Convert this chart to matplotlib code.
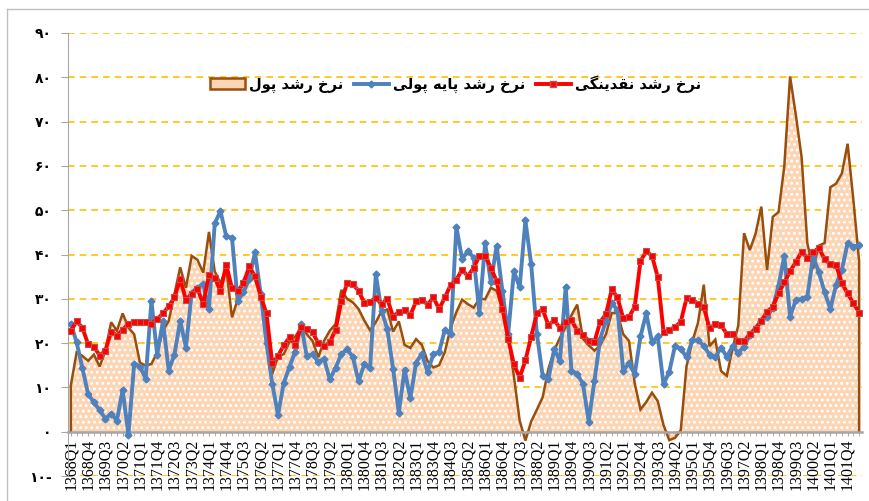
import matplotlib.pyplot as plt
import numpy as np
from matplotlib.lines import Line2D

plt.rcParams['hatch.color'] = 'white'
plt.rcParams['hatch.linewidth'] = 1.3

# quarterly categories 1368Q1 .. 1402Q2
quarters = [f'{y}Q{q}' for y in range(1368, 1403) for q in range(1, 5)][:138]

money = [10.5, 17.9, 17.1, 16.0, 17.4, 14.7, 18.3, 24.7, 22.8, 26.7,
         23.5, 22.0, 15.6, 14.9, 15.3, 17.9, 22.8, 25.0, 31.1, 37.1,
         32.5, 39.7, 38.8, 35.9, 45.1, 36.2, 33.5, 37.0, 25.8, 29.9,
         34.2, 36.5, 35.5, 31.8, 25.9, 13.0, 17.0, 17.5, 20.3, 21.5,
         23.5, 22.0, 20.5, 16.8, 20.5, 22.8, 24.3, 32.0, 30.0, 29.2,
         27.7, 25.1, 22.9, 24.7, 27.2, 27.6, 22.6, 24.9, 19.6, 18.9,
         20.9, 19.6, 15.9, 14.5, 15.0, 18.0, 23.5, 27.0, 29.8, 28.8,
         28.0, 30.0, 29.9, 32.5, 31.8, 27.5, 22.0, 12.5, 2.5, -2.0,
         2.3, 5.0, 7.8, 14.2, 18.4, 21.2, 23.6, 26.3, 28.7, 21.0,
         19.5, 18.3, 19.5, 22.0, 26.8, 26.8, 22.0, 20.5, 10.9, 5.0,
         6.7, 8.8, 6.9, 1.5, -1.9, -1.4, 0.3, 14.8, 20.3, 24.6,
         33.2, 19.3, 20.8, 13.7, 12.6, 18.8, 24.0, 44.8, 41.0, 44.7,
         50.8, 36.5, 48.5, 49.6, 60.0, 80.2, 71.5, 62.0, 42.5, 36.8,
         42.0, 42.6, 55.2, 56.0, 58.3, 65.0, 52.3, 38.5]

base = [24.3, 20.2, 14.3, 8.5, 6.6, 4.9, 2.9, 4.1, 2.5, 9.5,
        -0.7, 15.3, 14.7, 12.0, 29.5, 17.4, 25.0, 13.8, 17.4, 25.0,
        19.0, 31.4, 32.5, 33.3, 27.7, 47.0, 49.8, 44.1, 43.8, 29.5,
        31.5, 34.5, 40.5, 31.0, 20.0, 10.8, 3.8, 11.0, 14.7, 18.1,
        24.3, 17.0, 17.5, 15.7, 16.5, 11.8, 14.4, 17.5, 18.6, 16.9,
        11.4, 15.2, 14.3, 35.5, 27.3, 23.1, 14.2, 4.3, 14.0, 7.5,
        15.6, 17.6, 13.5, 17.5, 18.0, 23.0, 22.0, 46.2, 39.0, 40.8,
        39.3, 26.9, 42.5, 33.7, 42.0, 31.8, 22.0, 36.2, 32.6, 47.7,
        37.8, 22.0, 12.6, 11.9, 18.6, 16.0, 32.7, 13.8, 13.0, 10.8,
        2.3, 11.5, 21.0, 25.0, 29.0, 27.5, 13.8, 15.4, 13.0, 21.5,
        26.7, 20.2, 21.5, 10.7, 13.5, 19.4, 18.7, 16.8, 20.6, 20.6,
        19.4, 17.4, 16.8, 19.0, 16.9, 19.3, 17.8, 19.2, 21.9, 23.4,
        25.0, 26.0, 28.0, 33.0, 39.7, 26.0, 29.7, 30.0, 30.5, 39.5,
        36.0, 31.5, 27.7, 33.2, 36.5, 42.6, 41.8, 42.1]

liquidity = [22.8, 24.9, 23.5, 19.7, 19.2, 17.2, 18.3, 22.6, 21.7, 23.0,
             24.4, 24.8, 24.7, 24.8, 24.4, 25.4, 26.7, 28.3, 30.3, 34.4,
             29.8, 31.1, 32.3, 28.8, 35.4, 34.8, 31.7, 37.7, 32.4, 31.7,
             33.5, 37.3, 35.1, 30.5, 26.7, 15.4, 17.1, 19.5, 21.3, 19.6,
             23.7, 23.2, 22.4, 20.0, 19.3, 20.2, 23.0, 29.4, 33.5, 33.3,
             31.8, 29.1, 29.3, 30.2, 28.8, 30.0, 25.9, 27.1, 27.4, 26.3,
             29.4, 29.8, 28.7, 30.3, 27.7, 30.3, 33.1, 34.3, 36.6, 35.1,
             37.0, 39.6, 39.7, 37.0, 34.0, 27.8, 21.0, 15.2, 12.2, 16.1,
             21.4, 26.8, 27.6, 24.0, 25.2, 23.4, 24.8, 25.2, 22.8, 21.9,
             20.5, 20.3, 24.8, 26.5, 32.1, 30.3, 25.6, 25.9, 28.2, 38.5,
             40.7, 39.7, 34.9, 22.6, 23.0, 23.6, 24.8, 30.1, 29.8, 28.9,
             28.2, 23.3, 24.3, 24.0, 22.1, 22.1, 20.4, 20.4, 22.0, 23.2,
             25.0, 27.1, 28.2, 31.2, 33.7, 36.2, 38.3, 40.6, 39.3, 40.5,
             41.5, 38.9, 37.8, 37.6, 33.5, 31.2, 29.0, 26.9]

yticks = [-10, 0, 10, 20, 30, 40, 50, 60, 70, 80, 90]
ytick_labels = ['۱۰-', '۰', '۱۰', '۲۰', '۳۰', '۴۰', '۵۰', '۶۰', '۷۰', '۸۰', '۹۰']
legend_labels = ['نرخ رشد پول', 'نرخ رشد پایه پولی', 'نرخ رشد نقدینگی']

# simple arabic shaping (matplotlib has no shaping / bidi)
forms = {
    'ن': '\uFEE5\uFEE6\uFEE7\uFEE8', 'خ': '\uFEA5\uFEA6\uFEA7\uFEA8',
    'ش': '\uFEB5\uFEB6\uFEB7\uFEB8', 'پ': '\uFB56\uFB57\uFB58\uFB59',
    'ل': '\uFEDD\uFEDE\uFEDF\uFEE0', 'ی': '\uFBFC\uFBFD\uFBFE\uFBFF',
    'ه': '\uFEE9\uFEEA\uFEEB\uFEEC', 'ق': '\uFED5\uFED6\uFED7\uFED8',
    'گ': '\uFB92\uFB93\uFB94\uFB95',
    'ر': '\uFEAD\uFEAE\uFEAD\uFEAE', 'د': '\uFEA9\uFEAA\uFEA9\uFEAA',
    'و': '\uFEED\uFEEE\uFEED\uFEEE', 'ا': '\uFE8D\uFE8E\uFE8D\uFE8E',
}
right_only = set('ردوا')


def shape(text):
    out = []
    for k, c in enumerate(text):
        if c not in forms:
            out.append(c)
            continue
        prev = text[k - 1] if k > 0 else None
        nxt = text[k + 1] if k + 1 < len(text) else None
        jp = prev in forms and prev not in right_only
        jn = nxt in forms and c not in right_only
        idx = 3 if (jp and jn) else 1 if jp else 2 if jn else 0
        out.append(forms[c][idx])
    return ''.join(reversed(out))


x = np.arange(len(quarters))

fig = plt.figure(figsize=(8.69, 5.01), dpi=100)
ax = fig.add_axes([68 / 869, 1 - 476 / 501, (862 - 68) / 869, (476 - 33) / 501])

ax.set_ylim(-10, 90)
ax.set_xlim(-0.5, len(quarters) - 0.5)
for v in yticks:
    ax.axhline(v, color='#FFC000', lw=1.2, ls=(0, (4, 3)), zorder=0)

# money growth: area
ax.fill_between(x, 0, money, color='#FCD5B5', lw=0, zorder=1)
ax.fill_between(x, 0, money, facecolor='none', edgecolor='white', hatch='...', lw=0.01, zorder=1.1)
ax.plot(np.r_[x[0], x, x[-1]], np.r_[0, money, 0], color='#9A4E0C', lw=1.8, zorder=2,
        solid_joinstyle='miter')

ax.plot(x, base, color='#4F81BD', lw=2.8, marker='D', ms=3.5, zorder=3)
ax.plot(x, liquidity, color='#FF0000', lw=2.8, marker='s', ms=4.5,
        mfc='#FF0000', mec='#C0504D', mew=0.8, zorder=4)

ax.spines[['top', 'right']].set_visible(False)
ax.spines['bottom'].set_position(('data', 0))
ax.spines['bottom'].set_color('#A6A6A6')
ax.spines['bottom'].set_linewidth(1.8)
ax.spines['bottom'].set_zorder(2.5)
ax.spines['left'].set_color('#A6A6A6')

ax.set_yticks(yticks)
ax.set_yticklabels(ytick_labels, fontsize=10, fontweight='bold', family=['DejaVu Sans'])
ax.tick_params(axis='y', length=5, color='#A6A6A6', pad=7)

ax.set_xticks(x[::3])
ax.set_xticks(x, minor=True)
ax.set_xticklabels(quarters[::3], rotation=90, fontsize=11.5, family='Liberation Serif')
ax.tick_params(axis='x', which='both', length=3, color='#A6A6A6', pad=2)

handles = [
    plt.Rectangle((0, 0), 1, 1, facecolor='#FCD5B5', edgecolor='#9A4E0C', lw=1.8),
    Line2D([], [], color='#4F81BD', lw=2.8, marker='D', ms=3.5),
    Line2D([], [], color='#FF0000', lw=2.8, marker='s', ms=4.5, mec='#C0504D'),
]
ax.legend(handles, [shape(t) for t in legend_labels], ncol=3, loc='center',
          bbox_to_anchor=(0.488, 0.885), frameon=False, handlelength=2.4,
          columnspacing=0.7, handletextpad=0.3,
          prop={'family': 'DejaVu Sans', 'weight': 'bold', 'size': 10.5})

# chart border (left and top visible)
fig.add_artist(Line2D([7 / 869, 7 / 869], [0, 1 - 9 / 501], color='#BFBFBF', lw=1,
                      transform=fig.transFigure))
fig.add_artist(Line2D([7 / 869, 1], [1 - 9 / 501, 1 - 9 / 501], color='#BFBFBF', lw=1,
                      transform=fig.transFigure))

fig.savefig('out.png', dpi=100)
